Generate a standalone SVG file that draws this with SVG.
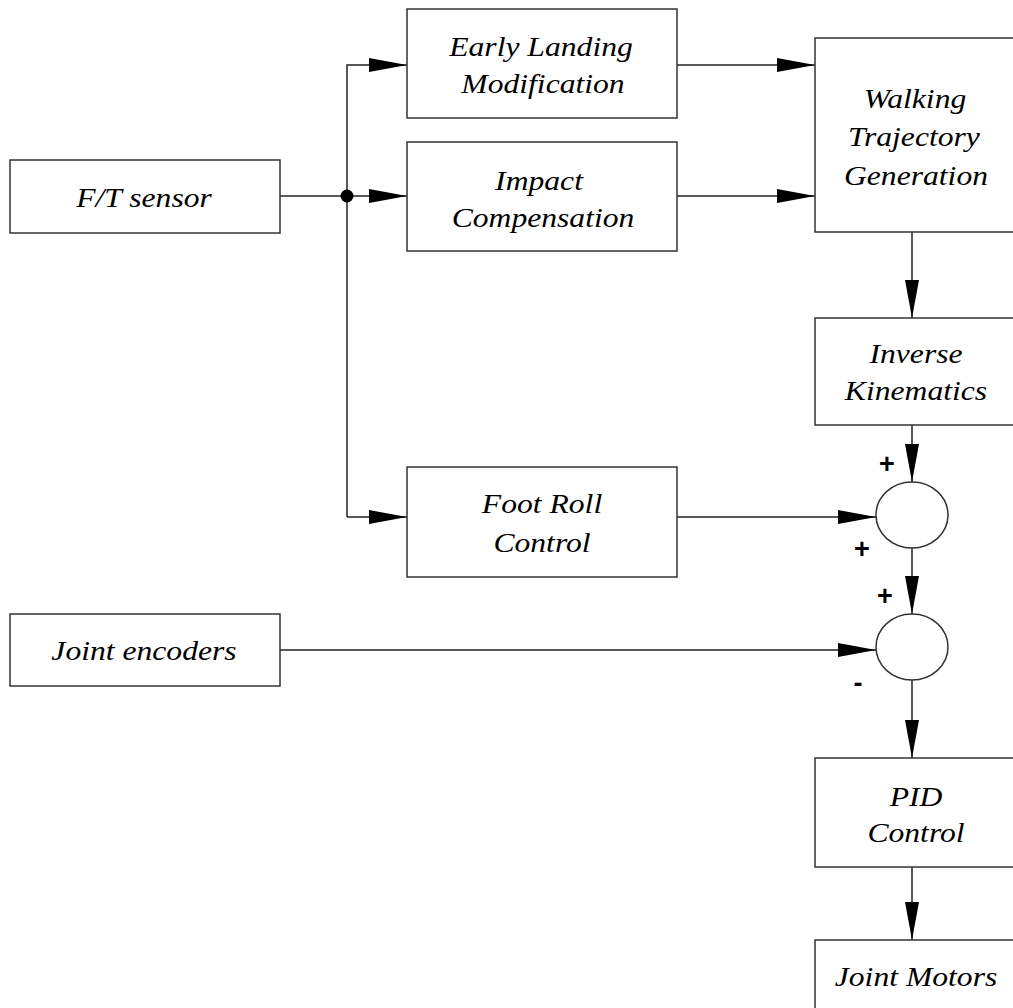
<svg xmlns="http://www.w3.org/2000/svg" width="1013" height="1008" viewBox="0 0 1013 1008">
<defs>
<style>
.box{fill:#fff;stroke:#333;stroke-width:1.5}
.sum{fill:#fff;stroke:#333;stroke-width:1.5}
.ln{fill:none;stroke:#222;stroke-width:1.5}
.t{font-family:"Liberation Serif","Times New Roman",serif;font-style:italic;font-size:28px;fill:#000;text-anchor:middle}
.s{font-family:"Liberation Sans",Arial,sans-serif;font-weight:bold;font-size:27px;fill:#000;text-anchor:middle}
</style>
<marker id="arr" markerUnits="userSpaceOnUse" markerWidth="40" markerHeight="16" refX="38" refY="8" orient="auto" viewBox="0 0 40 16">
<path d="M0,1 L38,8 L0,15 Z" fill="#000"/>
</marker>
</defs>
<g id="connectors">
<line class="ln" x1="280" y1="196" x2="407" y2="196" marker-end="url(#arr)"/>
<polyline class="ln" points="347,517 347,65 407,65" marker-end="url(#arr)"/>
<polyline class="ln" points="347,517 407,517" marker-end="url(#arr)"/>
<line class="ln" x1="677" y1="65" x2="815" y2="65" marker-end="url(#arr)"/>
<line class="ln" x1="677" y1="196" x2="815" y2="196" marker-end="url(#arr)"/>
<line class="ln" x1="912" y1="232" x2="912" y2="318" marker-end="url(#arr)"/>
<line class="ln" x1="912" y1="425" x2="912" y2="482" marker-end="url(#arr)"/>
<line class="ln" x1="677" y1="517" x2="876" y2="517" marker-end="url(#arr)"/>
<line class="ln" x1="912" y1="548" x2="912" y2="614" marker-end="url(#arr)"/>
<line class="ln" x1="280" y1="650" x2="876" y2="650" marker-end="url(#arr)"/>
<line class="ln" x1="912" y1="680" x2="912" y2="758" marker-end="url(#arr)"/>
<line class="ln" x1="912" y1="867" x2="912" y2="940" marker-end="url(#arr)"/>
<circle cx="347" cy="196" r="6.5" fill="#000"/>
</g>
<g id="ft-sensor">
<rect class="box" x="10" y="160" width="270" height="73"/>
<text class="t" transform="translate(144 207) scale(1.13 1)">F/T sensor</text>
</g>
<g id="early-landing">
<rect class="box" x="407" y="9" width="270" height="109"/>
<text class="t" transform="translate(541 56) scale(1.13 1)">Early Landing</text>
<text class="t" transform="translate(543 93) scale(1.13 1)">Modification</text>
</g>
<g id="impact">
<rect class="box" x="407" y="142" width="270" height="109"/>
<text class="t" transform="translate(539 190) scale(1.13 1)">Impact</text>
<text class="t" transform="translate(543 227) scale(1.13 1)">Compensation</text>
</g>
<g id="walking">
<rect class="box" x="815" y="38" width="210" height="194"/>
<text class="t" transform="translate(915 108) scale(1.13 1)">Walking</text>
<text class="t" transform="translate(914 146) scale(1.13 1)">Trajectory</text>
<text class="t" transform="translate(916 185) scale(1.13 1)">Generation</text>
</g>
<g id="inverse">
<rect class="box" x="815" y="318" width="210" height="107"/>
<text class="t" transform="translate(916 363) scale(1.13 1)">Inverse</text>
<text class="t" transform="translate(916 400) scale(1.13 1)">Kinematics</text>
</g>
<g id="foot-roll">
<rect class="box" x="407" y="467" width="270" height="110"/>
<text class="t" transform="translate(542 513) scale(1.13 1)">Foot Roll</text>
<text class="t" transform="translate(542 552) scale(1.13 1)">Control</text>
</g>
<g id="joint-encoders">
<rect class="box" x="10" y="614" width="270" height="72"/>
<text class="t" transform="translate(144 660) scale(1.13 1)">Joint encoders</text>
</g>
<g id="sum1">
<ellipse class="sum" cx="912" cy="515" rx="36" ry="33"/>
<text class="s" x="887" y="473">+</text>
<text class="s" x="862" y="558">+</text>
</g>
<g id="sum2">
<ellipse class="sum" cx="912" cy="647" rx="36" ry="33"/>
<text class="s" x="885" y="605">+</text>
<text class="s" x="858" y="692">-</text>
</g>
<g id="pid">
<rect class="box" x="815" y="758" width="210" height="109"/>
<text class="t" transform="translate(916 806) scale(1.13 1)">PID</text>
<text class="t" transform="translate(916 842) scale(1.13 1)">Control</text>
</g>
<g id="joint-motors">
<rect class="box" x="815" y="940" width="210" height="80"/>
<text class="t" transform="translate(916 986) scale(1.13 1)">Joint Motors</text>
</g>
</svg>
